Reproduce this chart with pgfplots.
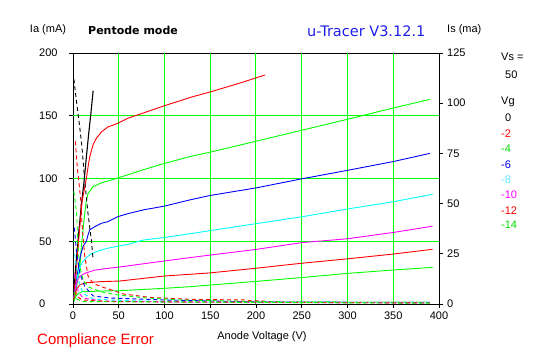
\documentclass[border=0pt]{standalone}
\usepackage{pgfplots}
\pgfplotsset{compat=1.18}
\usepackage{fontspec}
\setmainfont{Liberation Sans}
\newfontfamily\dejavu{DejaVu Sans}
\definecolor{gr}{RGB}{0,255,0}
\definecolor{rd}{RGB}{255,0,0}
\definecolor{bl}{RGB}{0,0,255}
\definecolor{cy}{RGB}{0,255,255}
\definecolor{mg}{RGB}{255,0,255}
\definecolor{lcy}{RGB}{90,230,255}
\definecolor{tblue}{RGB}{30,30,235}
\begin{document}
\begin{tikzpicture}[x=1pt,y=1pt]
\path (0,0) rectangle (547,357);
\pgfplotsset{every axis/.style={
  at={(73pt,53pt)}, anchor=south west, scale only axis,
  width=366pt, height=251pt,
  xmin=0, xmax=400,
  tick label style={font=\fontsize{11}{13}\selectfont},
  /pgf/number format/assume math mode=true,
  major tick length=4pt, tick align=outside,
  tick style={black, line width=0.8pt},
  axis line style={black, line width=0.9pt},
}}
\begin{axis}[
  ymin=0, ymax=200,
  xtick={0,50,...,400}, ytick={0,50,...,200},
  xtick pos=bottom, ytick pos=left,
  extra x ticks={50,100,...,350}, extra x tick labels={},
  extra y ticks={50,100,150}, extra y tick labels={},
  extra tick style={grid=major, major grid style={gr, line width=1pt}, major tick length=0pt},
  yticklabel style={anchor=west, inner sep=0pt, xshift=-30pt},
]
\addplot[black, line width=1.1pt] coordinates {(0.5,5) (3,30) (6,55) (9,78) (12,97) (14.6,117) (17.2,136) (20,155) (22,170)};
\addplot[rd, line width=0.9pt] coordinates {(1,4) (3,20) (5,40) (7.5,62) (10,82) (12.8,93) (14.6,100) (16.4,109) (18.2,117) (22,127) (25.5,132) (31,137) (38,141) (49,144) (60,148) (80,153) (100,158) (130,165) (150,169) (180,175.5) (210,182.5)};
\addplot[gr, line width=0.9pt] coordinates {(1,3) (3,10) (5,18) (7.3,27) (9,45) (11,59) (12.8,72) (14.5,82) (16.4,88) (22,93.5) (31,96.5) (45,99.5) (60,103) (77,107) (95,111) (128,117.5) (150,121) (199,129.5) (249,138.3) (299,147) (349,156) (390,163)};
\addplot[bl, line width=0.9pt] coordinates {(2,8) (5,25) (8,38) (11,46) (14.6,50) (16.4,55) (18.2,59) (23.7,61.6) (31,64.3) (38,65.6) (49,69.6) (60,72) (77,75) (100,78) (128,83) (150,86.5) (200,92.5) (249,99.6) (300,106.5) (350,113.5) (390,120)};
\addplot[cy, line width=0.9pt] coordinates {(1,5) (4,18) (7,28) (10,33) (14.6,37) (20,40) (27,42) (38,44.5) (60,47.5) (77,51) (100,53) (128,56) (150,58.5) (200,64) (250,69.5) (300,75.7) (350,81.5) (393,87.4)};
\addplot[mg, line width=0.9pt] coordinates {(1,5) (3,14) (5,19) (7.3,22) (12.8,24.4) (23.7,27) (38,28.4) (51,29.5) (100,34.3) (128,37) (150,39) (200,43.5) (250,48.9) (300,52) (350,57) (393,62)};
\addplot[rd, line width=0.9pt] coordinates {(1,3) (3,10) (5,13) (8,15.5) (15,17) (30,17.8) (51,18.3) (100,22.3) (128,23.7) (150,24.8) (200,28.5) (249,32.4) (300,36) (350,39.8) (393,43.6)};
\addplot[gr, line width=0.9pt] coordinates {(1,2) (3,6) (6,8.5) (10,9.8) (40,10.5) (51,10.6) (100,12.5) (128,13.8) (150,15.1) (200,18) (249,21) (300,24.4) (350,27.1) (393,29.2)};
\end{axis}
\begin{axis}[
  ymin=0, ymax=125, ytick={0,25,...,125},
  axis y line*=right, axis x line=none,
  yticklabel style={anchor=west, inner sep=0pt, xshift=4pt},
]
\addplot[black, line width=0.9pt, dash pattern=on 4pt off 3pt] coordinates {(1,112) (3.6,101.6) (7.3,88.3) (9.8,78.3) (12.7,62) (16.4,45) (20,32) (22,22)};
\addplot[rd, line width=0.9pt, dash pattern=on 4pt off 3pt] coordinates {(2.5,81) (4.7,68) (6.6,60) (8.4,52) (9.8,40) (12.8,24) (16.4,14) (22,10.3) (31,8.6) (42,7) (55,5) (84,3.3) (130,2.3) (190,2) (195,1.6) (210,1.5)};
\addplot[gr, line width=0.9pt, dash pattern=on 4pt off 3pt] coordinates {(1,56) (4,45) (5.5,28) (7.3,19) (11,12) (16.4,8.6) (31,6) (49,4.5) (80,3) (120,2) (200,1.2) (300,1) (390,1)};
\addplot[bl, line width=0.9pt, dash pattern=on 4pt off 3pt] coordinates {(1.5,38) (4,25) (7.7,15) (13,8.6) (22,4) (40,3) (100,2) (200,1) (390,0.8)};
\addplot[cy, line width=0.9pt, dash pattern=on 4pt off 3pt] coordinates {(1.8,25) (5.8,12) (11,5.3) (22,2.5) (50,1.8) (100,1.2) (200,0.8) (390,0.6)};
\addplot[mg, line width=0.9pt, dash pattern=on 4pt off 3pt] coordinates {(1.5,15) (5.8,6) (11,3) (30,1.5) (100,1) (390,0.5)};
\addplot[rd, line width=0.9pt, dash pattern=on 4pt off 3pt] coordinates {(1,10) (4,4) (10,2) (40,1.2) (390,0.5)};
\addplot[gr, line width=0.9pt, dash pattern=on 4pt off 3pt] coordinates {(1,6) (4,2.5) (10,1.2) (390,0.4)};
\end{axis}
\begin{scope}[every node/.style={inner sep=0pt, font=\fontsize{11}{13}\selectfont}]
\node at (48,327) {Ia (mA)};
\node[anchor=west, font=\dejavu\bfseries\fontsize{11}{13}\selectfont] at (88,327) {Pentode mode};
\node[anchor=west, text=tblue, font=\dejavu\fontsize{14.5}{17}\selectfont] at (307,326) {u-Tracer V3.12.1};
\node[anchor=west] at (447,327) {Is (ma)};
\node[anchor=west] at (501,300) {Vs =};
\node[anchor=west] at (505,282) {50};
\node[anchor=west] at (501,255) {Vg};
\node[anchor=west] at (505,239) {0};
\node[anchor=west, text=rd] at (501,223) {-2};
\node[anchor=west, text=gr!85!black] at (501,208) {-4};
\node[anchor=west, text=bl] at (501,192) {-6};
\node[anchor=west, text=lcy] at (501,177) {-8};
\node[anchor=west, text=mg] at (501,162) {-10};
\node[anchor=west, text=rd] at (501,146) {-12};
\node[anchor=west, text=gr!85!black] at (501,132) {-14};
\node at (262,20) {Anode Voltage (V)};
\node[anchor=west, text=rd, font=\fontsize{15}{17}\selectfont] at (37,16) {Compliance Error};
\end{scope}
\end{tikzpicture}
\end{document}
